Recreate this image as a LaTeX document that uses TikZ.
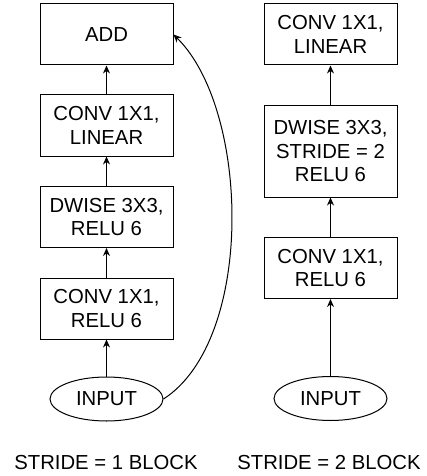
\documentclass[tikz,border=0pt]{standalone}
\usepackage{fontspec}
\setmainfont{Liberation Sans}
\usepackage{tikz}
\usetikzlibrary{arrows.meta}
\usetikzlibrary{shapes.geometric}

\tikzset{
  txt/.style={font=\fontsize{20.3}{23.5}\selectfont},
  layer/.style={txt, draw, line width=1pt, minimum width=133pt, minimum height=61pt, inner sep=0pt, align=center},
  inp/.style={txt, draw, ellipse, line width=1pt, minimum width=113pt, minimum height=44pt, inner sep=0pt},
}

\begin{document}
\begin{tikzpicture}[x=1pt, y=-1pt, >={Stealth[length=8pt, width=7pt]}]
\useasboundingbox (0,0) rectangle (427,476);
% stride 1
\node[layer] (add) at (106.5, 34.5) {ADD};
\node[layer] (lin1) at (106.5, 125.5) {CONV 1X1,\\LINEAR};
\node[layer] (dw1) at (106.5, 217) {DWISE 3X3,\\RELU 6};
\node[layer] (exp1) at (106.5, 308.5) {CONV 1X1,\\RELU 6};
\node[inp] (in1) at (106.5, 399) {INPUT};
\node[txt] (lbl1) at (106, 463) {STRIDE = 1 BLOCK};
\draw[line width=1pt, ->] (in1) -- (exp1);
\draw[line width=1pt, ->] (exp1) -- (dw1);
\draw[line width=1pt, ->] (dw1) -- (lin1);
\draw[line width=1pt, ->] (lin1) -- (add);
\draw[line width=1pt, ->] (in1.east) .. controls (255,340) and (250,110) .. (add.east);
% stride 2
\node[layer] (lin2) at (330.5, 34.5) {CONV 1X1,\\LINEAR};
\node[layer, minimum height=91pt] (dw2) at (330.5, 151.5) {DWISE 3X3,\\STRIDE = 2\\RELU 6};
\node[layer] (exp2) at (330.5, 268) {CONV 1X1,\\RELU 6};
\node[inp] (in2) at (330.5, 398.5) {INPUT};
\node[txt] (lbl2) at (329, 463) {STRIDE = 2 BLOCK};
\draw[line width=1pt, ->] (in2) -- (exp2);
\draw[line width=1pt, ->] (exp2) -- (dw2);
\draw[line width=1pt, ->] (dw2) -- (lin2);
\end{tikzpicture}
\end{document}
